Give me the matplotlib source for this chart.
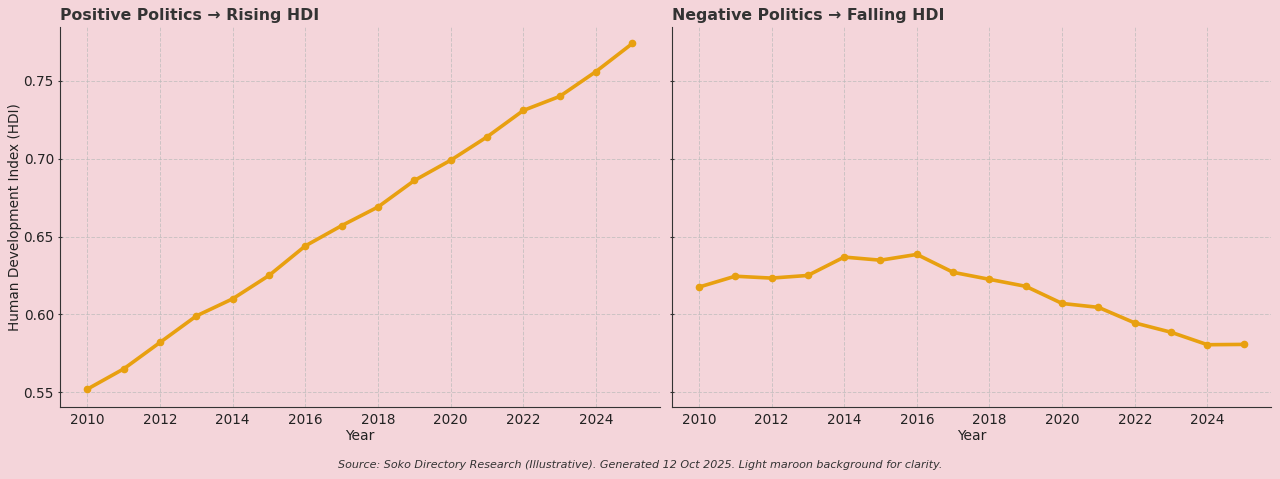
import matplotlib.pyplot as plt

# ---------- Data ----------
YEARS = list(range(2010, 2026))
HDI_POSITIVE = [0.552, 0.565, 0.582, 0.599, 0.610, 0.625, 0.644, 0.657,
                0.669, 0.686, 0.699, 0.714, 0.731, 0.740, 0.756, 0.774]
HDI_NEGATIVE = [0.6175, 0.6245, 0.6233, 0.6250, 0.6368, 0.6348, 0.6385, 0.6270,
                0.6225, 0.6180, 0.6070, 0.6045, 0.5945, 0.5885, 0.5805, 0.5807]
TITLES = ["Positive Politics \u2192 Rising HDI", "Negative Politics \u2192 Falling HDI"]
SOURCE = ("Source: Soko Directory Research (Illustrative). Generated 12 Oct 2025. "
          "Light maroon background for clarity.")

# ---------- Style ----------
BG = "#F4D5DA"
LINE = "#E8A010"
TEXT = "#333333"

fig, axes = plt.subplots(1, 2, figsize=(12.8, 4.79), dpi=100, sharey=True, facecolor=BG)
fig.subplots_adjust(left=0.047, right=0.993, top=0.944, bottom=0.150, wspace=0.02)

for ax, series, title in zip(axes, [HDI_POSITIVE, HDI_NEGATIVE], TITLES):
    ax.set_facecolor(BG)
    ax.plot(YEARS, series, color=LINE, linewidth=2.6, marker="o", markersize=4.5)
    ax.set_title(title, loc="left", fontsize=11.3, fontweight="bold", color=TEXT, pad=5)
    ax.set_xlabel("Year", fontsize=10, color="#222222", labelpad=2)
    ax.set_xticks(range(2010, 2026, 2))
    ax.grid(True, linestyle="--", linewidth=0.7, color="#BBBBBB", alpha=0.7)
    for side in ("top", "right"):
        ax.spines[side].set_visible(False)
    for side in ("left", "bottom"):
        ax.spines[side].set_color(TEXT)
    ax.tick_params(axis="x", colors=TEXT, labelcolor="#222222", labelsize=9.8, length=0, pad=4)
    ax.tick_params(axis="y", colors=TEXT, labelcolor="#222222", labelsize=9.8,
                   length=3, direction="inout", pad=3)

axes[0].set_ylabel("Human Development Index (HDI)", fontsize=9.8, color="#222222", labelpad=1)
axes[0].set_ylim(0.5404, 0.7847)
axes[0].set_yticks([0.55, 0.60, 0.65, 0.70, 0.75])
axes[1].tick_params(labelleft=False)

fig.text(0.5, 0.029, SOURCE, ha="center", va="center", fontsize=8, style="italic", color=TEXT)

plt.savefig("out.png", dpi=100, facecolor=BG)
